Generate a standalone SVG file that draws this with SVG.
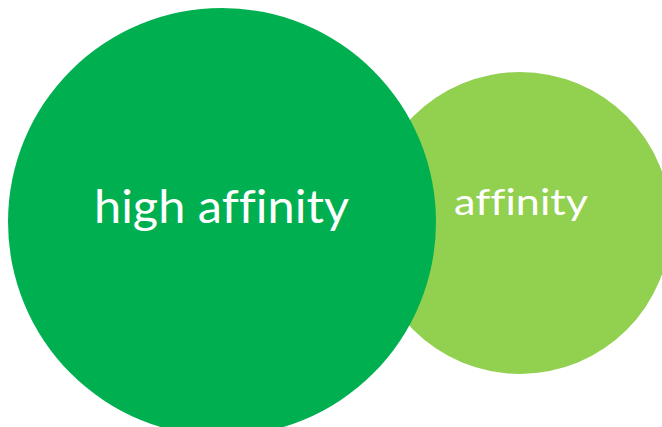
<svg xmlns="http://www.w3.org/2000/svg" width="662" height="427" viewBox="0 0 662 427">
<style>
.lbl{font-family:Lato,"Open Sans","Liberation Sans",sans-serif;fill:#ffffff;text-anchor:middle;font-variant-ligatures:none;font-feature-settings:"liga" 0}
</style>
<rect width="662" height="427" fill="#ffffff"/>
<g id="node-affinity">
<circle cx="520" cy="223" r="151" fill="#92D050"/>
<text class="lbl" x="521" y="215" font-size="37" textLength="134" lengthAdjust="spacingAndGlyphs">affinity</text>
</g>
<g id="node-high-affinity">
<circle cx="222" cy="222" r="214" fill="#00B050"/>
<text class="lbl" x="221.5" y="223" font-size="47" textLength="255" lengthAdjust="spacingAndGlyphs">high affinity</text>
</g>
<g id="connectors"/>
</svg>
